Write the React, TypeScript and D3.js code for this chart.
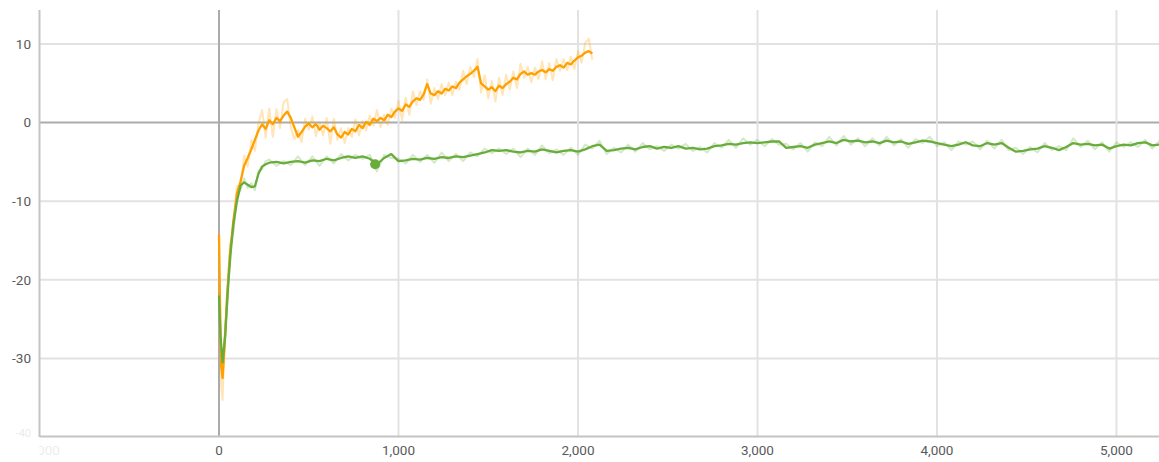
import React from "react";
import * as d3 from "d3";

// ---- data ----
const orangeEarlySteps = [0, 5, 12, 20, 30, 45, 60, 80, 100, 120, 140, 160];
const orangeEarlyValues = [-14.3, -22, -31, -32.5, -29, -22, -17, -12.5, -9, -7.5, -5.5, -4.5];
const orangeEarlyNoise = [0.3, -1.5, -2.5, -2.8, 1.2, -1.0, 1.4, -1.2, 1.0, -0.8, 1.3, -1.1];
const orangeStart = 180;
const orangeStepSize = 20;
const orangeValues = [
  -3.4, -2.2, -1.0, -0.2, -0.8, 0.3, -0.2, 0.6, 0.2, 0.9, 1.4, 0.6, -0.6, -1.8, -1.2, -0.5, -0.1, -0.6, -0.2, -0.9,
  -0.4, -0.7, -1.1, -0.6, -1.5, -1.9, -1.2, -1.5, -0.8, -1.1, -0.3, -0.7, 0.1, -0.3, 0.5, 0.2, 0.6, 0.3, 1.0, 0.7,
  1.4, 1.8, 1.5, 2.3, 2.0, 2.7, 3.1, 2.9, 3.6, 4.9, 3.7, 3.5, 4.0, 3.7, 4.3, 4.1, 4.6, 4.4, 5.1, 5.5,
  5.9, 6.2, 6.6, 7.1, 5.0, 4.6, 4.2, 4.5, 4.0, 4.7, 4.4, 4.9, 5.2, 5.7, 5.5, 6.2, 6.5, 6.1, 6.3, 6.1,
  6.5, 6.7, 6.4, 6.8, 6.6, 7.1, 7.3, 7.0, 7.6, 7.4, 7.9, 8.3, 8.5, 8.9, 9.1, 8.8,
];
const orangeNoise = [
  1.2, -1.4, 0.9, 1.8, -1.1, 1.5, -1.6, 1.1, -0.9, 1.7, 1.6, -1.2, -1.5, 0.8, -1.3, 1.0, -0.8, 1.4, -1.5, 0.9,
  -1.2, 1.3, -1.6, 1.1, -0.7, 1.2, -1.4, 0.8, -1.0, 1.5, -1.3, 0.9, -1.1, 1.2, -0.9, 1.4, -1.2, 0.7, -1.3, 1.1,
  -0.8, 1.0, -1.2, 0.9, -1.0, 1.3, -0.9, 1.1, -0.7, 0.6, -1.3, 0.9, -1.0, 1.2, -0.8, 1.0, -1.1, 0.8, -0.9, 1.1,
  -1.0, 0.9, -0.8, 1.0, -1.2, 1.4, -1.1, 0.8, -1.3, 1.0, -0.9, 1.2, -1.0, 0.8, -1.1, 1.3, -0.8, 1.0, -1.2, 0.9,
  -1.0, 1.1, -0.9, 0.8, -1.2, 1.0, -0.7, 1.1, -0.9, 1.0, -1.1, 0.8, -0.9, 1.2, 1.6, -0.8,
];

const greenEarlySteps = [0, 8, 20, 35, 50, 65, 80, 100, 120, 140, 160, 180, 200, 220, 240, 260];
const greenEarlyValues = [-22, -27, -30.5, -27, -21, -16.5, -13, -10, -8, -7.6, -7.9, -8.2, -8.1, -6.5, -5.6, -5.3];
const greenEarlyNoise = [0.5, -1.0, -1.8, 1.2, -1.0, 1.1, -0.9, 0.8, -0.6, 0.5, -0.4, 0.5, -0.5, 0.4, -0.3, 0.4];
const greenStart = 280;
const greenStepSize = 40;
const greenValues = [
  -5.1, -5.0, -5.2, -5.0, -4.9, -5.1, -4.8, -4.9, -4.6, -4.8, -4.5, -4.3, -4.5, -4.3, -4.6, -5.3, -4.5, -4.0, -4.9, -4.8,
  -4.6, -4.7, -4.5, -4.6, -4.4, -4.5, -4.3, -4.4, -4.2, -4.0, -3.8, -3.5, -3.6, -3.5, -3.7, -3.8, -3.6, -3.7, -3.4, -3.6,
  -3.8, -3.6, -3.5, -3.7, -3.4, -3.0, -2.8, -3.6, -3.5, -3.3, -3.2, -3.4, -3.1, -3.0, -3.3, -3.1, -3.2, -3.0, -3.3, -3.2,
  -3.4, -3.3, -3.0, -2.9, -2.7, -2.8, -2.6, -2.5, -2.6, -2.5, -2.4, -2.4, -3.2, -3.1, -3.0, -3.2, -2.8, -2.6, -2.4, -2.6,
  -2.2, -2.4, -2.3, -2.5, -2.4, -2.6, -2.3, -2.5, -2.4, -2.7, -2.5, -2.3, -2.4, -2.6, -2.8, -3.0, -2.8, -2.5, -2.9, -3.0,
  -2.6, -2.8, -2.6, -3.2, -3.7, -3.6, -3.4, -3.3, -3.0, -3.2, -3.5, -3.1, -2.6, -2.8, -2.7, -2.9, -2.8, -3.3, -3.0, -2.8,
  -2.9, -2.6, -2.5, -2.9, -2.8, -3.0,
];
const greenNoise = [
  0.4, -0.5, 0.3, -0.4, 0.6, -0.3, 0.5, -0.6, 0.3, -0.4, 0.5, -0.5, 0.4, -0.3, 0.5, -0.9, 0.4, -0.5, 0.3, -0.4,
  0.5, -0.3, 0.4, -0.5, 0.6, -0.4, 0.3, -0.5, 0.4, -0.3, 0.5, -0.4, 0.3, -0.5, 0.4, -0.6, 0.3, -0.4, 0.5, -0.3,
  0.4, -0.5, 0.3, -0.4, 0.6, -0.3, 0.5, -0.4, 0.3, -0.5, 0.4, -0.3, 0.5, -0.4, 0.3, -0.5, 0.4, -0.3, 0.6, -0.4,
  0.3, -0.5, 0.4, -0.3, 0.5, -0.4, 0.6, -0.3, 0.4, -0.5, 0.3, -0.4, 0.5, -0.3, 0.4, -0.5, 0.3, -0.4, 0.6, -0.3,
  0.5, -0.4, 0.3, -0.5, 0.4, -0.3, 0.5, -0.4, 0.3, -0.5, 0.4, -0.3, 0.6, -0.4, 0.3, -0.5, 0.4, -0.3, 0.5, -0.4,
  0.3, -0.5, 0.4, -0.3, 0.5, -0.4, 0.3, -0.5, 0.4, -0.3, 0.5, -0.4, 0.6, -0.3, 0.4, -0.5, 0.3, -0.4, 0.5, -0.3,
  0.4, -0.5, 0.3, -0.4, 0.5, -0.3,
];

const markerStep = 870;
const markerValue = -5.3;

const xTicks = [-1000, 0, 1000, 2000, 3000, 4000, 5000];
const yTicks = [-40, -30, -20, -10, 0, 10];

const W = 1159;
const H = 462;
const left = 39.5;
const top = 10;
const bottom = 437;

function buildSeries(earlySteps: number[], earlyVals: number[], earlyNoise: number[], start: number, step: number, vals: number[], noise: number[]) {
  const main: [number, number][] = earlySteps.map((s, i) => [s, earlyVals[i]]);
  const raw: [number, number][] = earlySteps.map((s, i) => [s, earlyVals[i] + earlyNoise[i]]);
  vals.forEach((v, i) => {
    const s = start + i * step;
    main.push([s, v]);
    raw.push([s, v + (noise[i] ?? 0)]);
  });
  return { main, raw };
}

export default function App() {
  const x = d3.scaleLinear().domain([-1000, 5237]).range([left, W]);
  const y = d3.scaleLinear().domain([-40, 14.33]).range([bottom, top]);
  const line = d3
    .line<[number, number]>()
    .x((d) => x(d[0]))
    .y((d) => y(d[1]));

  const orange = buildSeries(orangeEarlySteps, orangeEarlyValues, orangeEarlyNoise, orangeStart, orangeStepSize, orangeValues, orangeNoise);
  const green = buildSeries(greenEarlySteps, greenEarlyValues, greenEarlyNoise, greenStart, greenStepSize, greenValues, greenNoise);

  const orangeColor = "#ffa000";
  const greenColor = "#68ad3c";
  const font = "Roboto, 'Noto Sans', sans-serif";

  return (
    <svg width={W} height={H} style={{ position: "absolute", left: 0, top: 0 }}>
      <defs>
        <clipPath id="plot">
          <rect x={left} y={top} width={W - left} height={bottom - top} />
        </clipPath>
        <clipPath id="xlab">
          <rect x={left} y={bottom} width={W - left} height={H - bottom} />
        </clipPath>
      </defs>
      <rect width={W} height={H} fill="#fff" />
      {/* gridlines */}
      {yTicks
        .filter((t) => t !== -40)
        .map((t) => (
          <line key={"gy" + t} x1={left} x2={W} y1={y(t)} y2={y(t)} stroke={t === 0 ? "#ababab" : "#e2e2e2"} strokeWidth={2} />
        ))}
      {xTicks
        .filter((t) => t !== -1000)
        .map((t) => (
          <line key={"gx" + t} x1={x(t)} x2={x(t)} y1={top} y2={bottom} stroke={t === 0 ? "#ababab" : "#e2e2e2"} strokeWidth={2} />
        ))}
      {/* axes */}
      <line x1={left} x2={left} y1={top} y2={bottom} stroke="#c4c4c4" strokeWidth={2} />
      <line x1={left} x2={W} y1={bottom - 0.5} y2={bottom - 0.5} stroke="#c4c4c4" strokeWidth={2} />
      {/* y labels */}
      {yTicks.map((t) => (
        <text
          key={"ly" + t}
          x={31}
          y={t === -40 ? y(t) - 4 : y(t)}
          dy="0.35em"
          textAnchor="end"
          fontFamily={font}
          fontSize={t === -40 ? 11 : 13.5}
          fill="#5a5a5a"
          opacity={t === -40 ? 0.12 : 1}
        >
          {t}
        </text>
      ))}
      {/* x labels */}
      <g clipPath="url(#xlab)">
        {xTicks.map((t) => (
          <text
            key={"lx" + t}
            x={x(t)}
            y={455}
            textAnchor="middle"
            fontFamily={font}
            fontSize={13.5}
            fill="#5a5a5a"
            opacity={t === -1000 ? 0.12 : 1}
          >
            {d3.format(",")(t)}
          </text>
        ))}
      </g>
      {/* series */}
      <g clipPath="url(#plot)" fill="none" strokeLinejoin="round">
        <path d={line(green.raw) || ""} stroke={greenColor} strokeOpacity={0.28} strokeWidth={2} />
        <path d={line(orange.raw) || ""} stroke={orangeColor} strokeOpacity={0.28} strokeWidth={2} />
        <path d={line(orange.main) || ""} stroke={orangeColor} strokeWidth={2.3} />
        <path d={line(green.main) || ""} stroke={greenColor} strokeWidth={2.3} />
        <circle cx={x(markerStep)} cy={y(markerValue)} r={5} fill={greenColor} />
      </g>
    </svg>
  );
}
